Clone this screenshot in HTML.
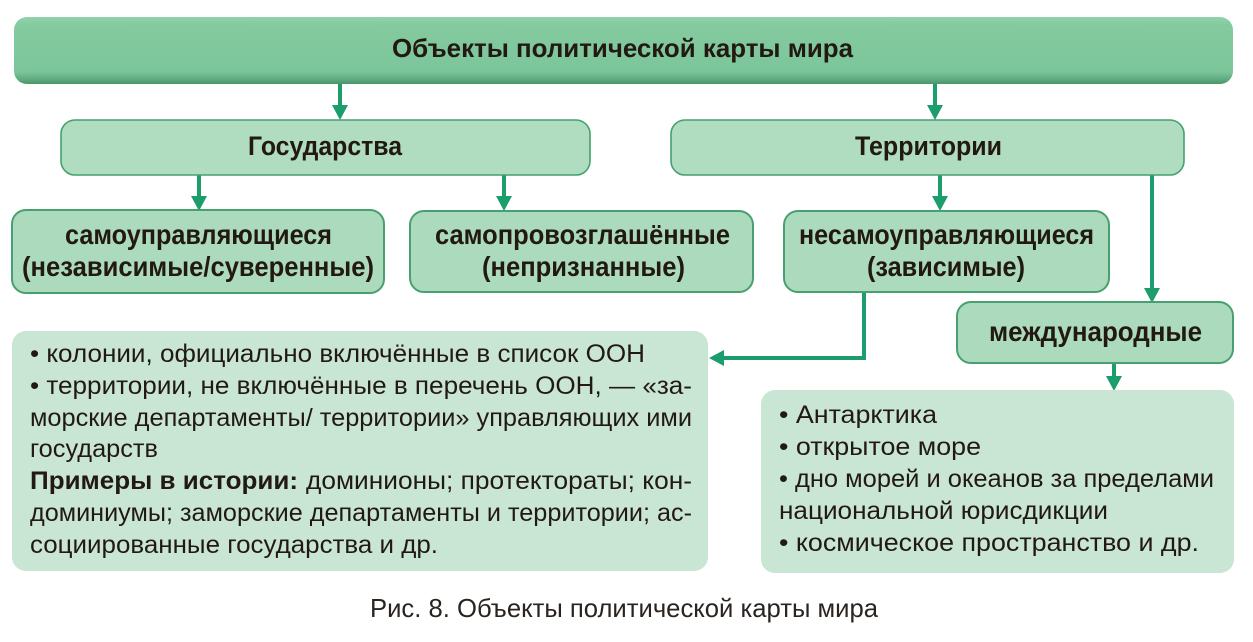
<!DOCTYPE html>
<html>
<head>
<meta charset="utf-8">
<style>
  html, body { margin: 0; padding: 0; background: #ffffff; }
  svg { display: block; }
  text { font-family: "Liberation Sans", "DejaVu Sans", sans-serif; fill: #221a12; }
  .b { font-weight: bold; }
</style>
</head>
<body>
<svg width="1253" height="642" viewBox="0 0 1253 642" xmlns="http://www.w3.org/2000/svg">
  <defs>
    <linearGradient id="topg" x1="0" y1="0" x2="0" y2="1">
      <stop offset="0" stop-color="#93d2ab"/>
      <stop offset="0.12" stop-color="#84ca9f"/>
      <stop offset="0.82" stop-color="#7cc59a"/>
      <stop offset="0.92" stop-color="#62ad83"/>
      <stop offset="1" stop-color="#4a9569"/>
    </linearGradient>
  </defs>

  <!-- Top bar -->
  <rect x="14" y="17" width="1219" height="67" rx="13" ry="13" fill="url(#topg)"/>
  <text class="b" x="392" y="57" font-size="26" textLength="461" lengthAdjust="spacingAndGlyphs">Объекты политической карты мира</text>

  <!-- Connectors -->
  <g stroke="#1b9d6c" stroke-width="4" fill="none">
    <line x1="340" y1="84" x2="340" y2="106"/>
    <line x1="935" y1="84" x2="935" y2="106"/>
    <line x1="199" y1="175" x2="199" y2="197"/>
    <line x1="504" y1="175" x2="504" y2="197"/>
    <line x1="940" y1="175" x2="940" y2="197"/>
    <line x1="1152" y1="175" x2="1152" y2="289"/>
    <polyline points="864,292 864,358 722,358"/>
    <line x1="1114" y1="363" x2="1114" y2="377"/>
  </g>
  <g fill="#1b9d6c">
    <polygon points="332,105 348,105 340,120"/>
    <polygon points="927,105 943,105 935,120"/>
    <polygon points="191,196 207,196 199,211"/>
    <polygon points="496,196 512,196 504,211"/>
    <polygon points="932,196 948,196 940,211"/>
    <polygon points="1144,288 1160,288 1152,303"/>
    <polygon points="724,350 724,366 709,358"/>
    <polygon points="1106,376 1122,376 1114,391"/>
  </g>

  <!-- Level 1 boxes -->
  <rect x="61" y="120" width="529" height="55" rx="14" ry="14" fill="#b0dcc0" stroke="#45a06f" stroke-width="1.6"/>
  <text class="b" x="248" y="155" font-size="27" textLength="154" lengthAdjust="spacingAndGlyphs">Государства</text>

  <rect x="671" y="120" width="513" height="55" rx="14" ry="14" fill="#b0dcc0" stroke="#45a06f" stroke-width="1.6"/>
  <text class="b" x="855" y="155" font-size="27" textLength="147" lengthAdjust="spacingAndGlyphs">Территории</text>

  <!-- Level 2 boxes -->
  <rect x="12" y="210" width="372" height="83" rx="14" ry="14" fill="#acdabd" stroke="#48a070" stroke-width="2"/>
  <text class="b" x="65" y="244" font-size="28" textLength="267" lengthAdjust="spacingAndGlyphs">самоуправляющиеся</text>
  <text class="b" x="22" y="276" font-size="28" textLength="352" lengthAdjust="spacingAndGlyphs">(независимые/суверенные)</text>

  <rect x="410" y="211" width="343" height="81" rx="14" ry="14" fill="#acdabd" stroke="#48a070" stroke-width="2"/>
  <text class="b" x="435" y="244" font-size="28" textLength="295" lengthAdjust="spacingAndGlyphs">самопровозглашённые</text>
  <text class="b" x="482" y="276" font-size="28" textLength="203" lengthAdjust="spacingAndGlyphs">(непризнанные)</text>

  <rect x="784" y="211" width="325" height="81" rx="14" ry="14" fill="#acdabd" stroke="#48a070" stroke-width="2"/>
  <text class="b" x="799" y="244" font-size="28" textLength="295" lengthAdjust="spacingAndGlyphs">несамоуправляющиеся</text>
  <text class="b" x="867" y="276" font-size="28" textLength="158" lengthAdjust="spacingAndGlyphs">(зависимые)</text>

  <rect x="957" y="302" width="276" height="61" rx="14" ry="14" fill="#acdabd" stroke="#48a070" stroke-width="2"/>
  <text class="b" x="989" y="341" font-size="28" textLength="213" lengthAdjust="spacingAndGlyphs">международные</text>

  <!-- Bottom-left box -->
  <rect x="12" y="331" width="696" height="240" rx="14" ry="14" fill="#c9e5d4"/>
  <g font-size="25">
    <text x="30" y="362" textLength="615" lengthAdjust="spacingAndGlyphs">• колонии, официально включённые в список ООН</text>
    <text x="30" y="394" textLength="662" lengthAdjust="spacingAndGlyphs">• территории, не включённые в перечень ООН, — «за-</text>
    <text x="30" y="426" textLength="662" lengthAdjust="spacingAndGlyphs">морские департаменты/ территории» управляющих ими</text>
    <text x="30" y="457" textLength="128" lengthAdjust="spacingAndGlyphs">государств</text>
    <text class="b" x="30" y="489" textLength="268" lengthAdjust="spacingAndGlyphs">Примеры в истории:</text>
    <text x="306" y="489" textLength="386" lengthAdjust="spacingAndGlyphs">доминионы; протектораты; кон-</text>
    <text x="30" y="521" textLength="662" lengthAdjust="spacingAndGlyphs">доминиумы; заморские департаменты и территории; ас-</text>
    <text x="30" y="553" textLength="408" lengthAdjust="spacingAndGlyphs">социированные государства и др.</text>
  </g>

  <!-- Bottom-right box -->
  <rect x="761" y="390" width="473" height="183" rx="14" ry="14" fill="#c9e5d4"/>
  <g font-size="25">
    <text x="779" y="423" textLength="158" lengthAdjust="spacingAndGlyphs">• Антарктика</text>
    <text x="779" y="455" textLength="202" lengthAdjust="spacingAndGlyphs">• открытое море</text>
    <text x="779" y="487" textLength="435" lengthAdjust="spacingAndGlyphs">• дно морей и океанов за пределами</text>
    <text x="779" y="519" textLength="329" lengthAdjust="spacingAndGlyphs">национальной юрисдикции</text>
    <text x="779" y="551" textLength="420" lengthAdjust="spacingAndGlyphs">• космическое пространство и др.</text>
  </g>

  <!-- Caption -->
  <text x="370" y="617" font-size="26" textLength="508" lengthAdjust="spacingAndGlyphs" style="fill:#2a2420">Рис. 8. Объекты политической карты мира</text>
</svg>
</body>
</html>
